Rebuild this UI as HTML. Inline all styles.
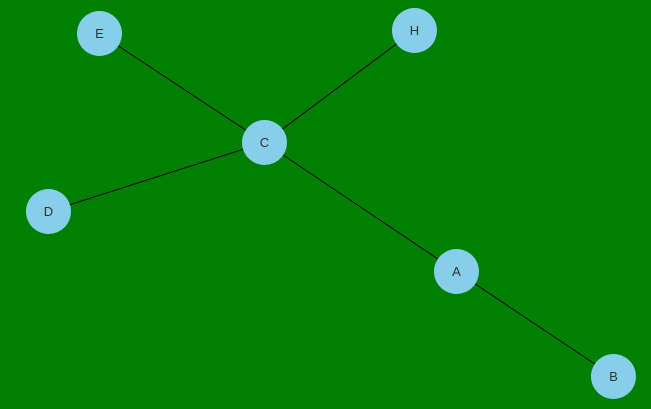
<!DOCTYPE html>
<html><head><style>html,body{margin:0;padding:0;background:#008000;}svg{display:block;}</style></head>
<body>
<svg id="g" width="651" height="409" xmlns="http://www.w3.org/2000/svg"></svg>
<script>
const nodeIds = ["E","H","C","D","A","B"];
const nodeX = [99,414,264,48,456,613];
const nodeY = [33,30,142,211,271,376];
const edgeSources = ["E","H","D","C","A"];
const edgeTargets = ["C","C","C","A","B"];
const svg = document.getElementById('g');
const NS = "http://www.w3.org/2000/svg";
const OFF = 0.5;
const pos = id => { const i = nodeIds.indexOf(id); return [nodeX[i]+OFF, nodeY[i]+OFF]; };
for (let k = 0; k < edgeSources.length; k++) {
  const [x1,y1] = pos(edgeSources[k]), [x2,y2] = pos(edgeTargets[k]);
  const l = document.createElementNS(NS,'line');
  l.setAttribute('x1',x1);l.setAttribute('y1',y1);l.setAttribute('x2',x2);l.setAttribute('y2',y2);
  l.setAttribute('stroke','#000');l.setAttribute('stroke-width','1');
  
  
  svg.appendChild(l);
}
for (let i = 0; i < nodeIds.length; i++) {
  const g = document.createElementNS(NS,'g');
  
  
  const c = document.createElementNS(NS,'circle');
  c.setAttribute('cx',nodeX[i]+OFF);c.setAttribute('cy',nodeY[i]+OFF);c.setAttribute('r',22.5);
  c.setAttribute('fill','#87ceeb');
  const t = document.createElementNS(NS,'text');
  t.setAttribute('x',nodeX[i]+OFF);t.setAttribute('y',nodeY[i]+OFF+4.5);
  t.setAttribute('text-anchor','middle');t.setAttribute('font-size','13');
  t.setAttribute('font-family','"Liberation Sans", sans-serif');t.setAttribute('fill','#333');
  t.textContent = nodeIds[i];
  g.appendChild(c);g.appendChild(t);svg.appendChild(g);
}
</script>
</body></html>
